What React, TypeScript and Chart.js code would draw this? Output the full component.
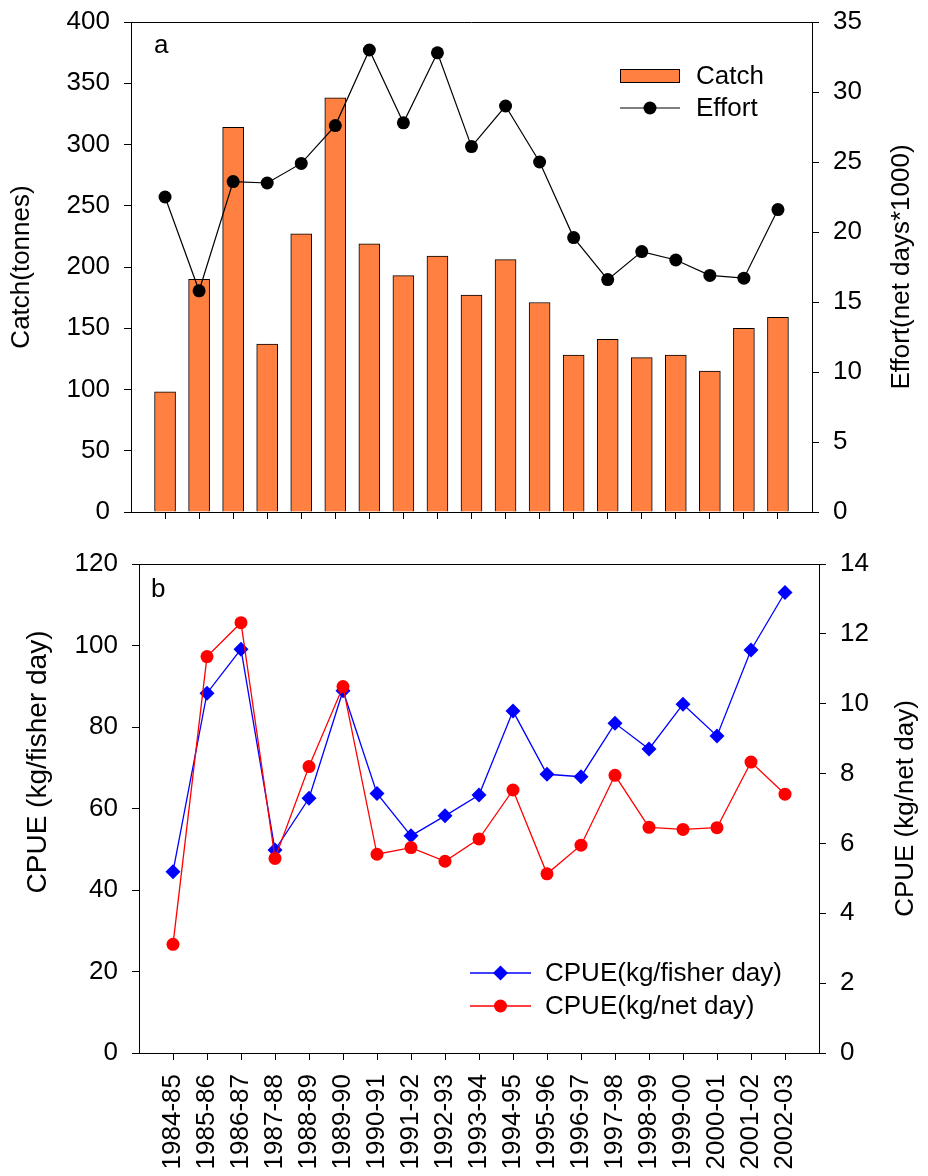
import React, { useEffect, useRef } from 'react';
import { Chart, registerables } from 'chart.js';

Chart.register(...registerables);

// ---------- data ----------
const seasons = [
  '1984-85', '1985-86', '1986-87', '1987-88', '1988-89', '1989-90', '1990-91',
  '1991-92', '1992-93', '1993-94', '1994-95', '1995-96', '1996-97', '1997-98',
  '1998-99', '1999-00', '2000-01', '2001-02', '2002-03',
];
const catchTonnes = [98, 190, 314, 137, 227, 338, 219, 193, 209, 177, 206, 171, 128, 141, 126, 128, 115, 150, 159];
const effortNetDays = [22.5, 15.8, 23.6, 23.5, 24.9, 27.6, 33.0, 27.8, 32.8, 26.1, 29.0, 25.0, 19.6, 16.6, 18.6, 18.0, 16.9, 16.7, 21.6];
const cpueFisherDay = [44.5, 88.3, 99.1, 49.8, 62.5, 88.9, 63.7, 53.3, 58.2, 63.3, 83.9, 68.4, 67.8, 80.9, 74.6, 85.6, 77.8, 98.9, 113.0];
const cpueNetDay = [3.11, 11.35, 12.32, 5.57, 8.2, 10.49, 5.69, 5.88, 5.49, 6.13, 7.53, 5.13, 5.95, 7.95, 6.46, 6.4, 6.45, 8.33, 7.41];

const catchTicks = { min: 0, max: 400, step: 50 };
const effortTicks = { min: 0, max: 35, step: 5 };
const fisherTicks = { min: 0, max: 120, step: 20 };
const netTicks = { min: 0, max: 14, step: 2 };

// ---------- style ----------
const FAMILY = 'Arial, "Liberation Sans", Helvetica, sans-serif';
const FS = 26;
const tickFont = { family: FAMILY, size: FS };
const idx = seasons.map((_, i) => i);

const gridOpts = {
  drawOnChartArea: false,
  drawTicks: true,
  tickLength: 7,
  color: '#000',
  lineWidth: 1,
  offset: false,
};
const borderOpts = { display: true, color: '#000', width: 1 };

function drawMarker(ctx: CanvasRenderingContext2D, style: string, x: number, y: number, r: number, color: string) {
  ctx.fillStyle = color;
  ctx.beginPath();
  if (style === 'rectRot') {
    ctx.moveTo(x, y - r);
    ctx.lineTo(x + r, y);
    ctx.lineTo(x, y + r);
    ctx.lineTo(x - r, y);
    ctx.closePath();
  } else {
    ctx.arc(x, y, r, 0, Math.PI * 2);
  }
  ctx.fill();
}

type OverlayCfg = {
  panel: { text: string; x: number; y: number };
  titles: { text: string; x: number; cy?: number; size?: number }[];
  legend: { x0: number; x1: number; textX: number; rows: { ds: number; y: number }[] };
};

function makeOverlay(id: string, cfg: OverlayCfg) {
  return {
    id,
    afterDraw(chart: any) {
      const ctx: CanvasRenderingContext2D = chart.ctx;
      const a = chart.chartArea;
      ctx.save();
      // top frame line
      ctx.strokeStyle = '#000';
      ctx.lineWidth = 1;
      ctx.beginPath();
      const ty = Math.round(a.top) + 0.5;
      ctx.moveTo(a.left, ty);
      ctx.lineTo(a.right, ty);
      ctx.stroke();

      ctx.font = `${FS}px ${FAMILY}`;
      ctx.fillStyle = '#000';
      // panel letter
      ctx.textAlign = 'left';
      ctx.textBaseline = 'alphabetic';
      ctx.fillText(cfg.panel.text, cfg.panel.x, cfg.panel.y);

      // axis titles
      const midY = (a.top + a.bottom) / 2;
      cfg.titles.forEach((t) => {
        ctx.save();
        ctx.translate(t.x, t.cy ?? midY);
        ctx.rotate(-Math.PI / 2);
        ctx.font = `${t.size ?? FS}px ${FAMILY}`;
        ctx.textAlign = 'center';
        ctx.textBaseline = 'middle';
        ctx.fillStyle = '#000';
        ctx.fillText(t.text, 0, 0);
        ctx.restore();
      });

      // legend
      const L = cfg.legend;
      ctx.font = `${FS}px ${FAMILY}`;
      L.rows.forEach((row) => {
        const ds = chart.data.datasets[row.ds];
        if (ds.type === 'bar') {
          ctx.fillStyle = ds.backgroundColor;
          ctx.fillRect(L.x0, row.y - 7, L.x1 - L.x0, 14);
          ctx.strokeStyle = ds.borderColor;
          ctx.lineWidth = 1;
          ctx.strokeRect(L.x0 + 0.5, row.y - 7 + 0.5, L.x1 - L.x0 - 1, 13);
        } else {
          ctx.strokeStyle = ds.borderColor;
          ctx.lineWidth = ds.borderWidth;
          ctx.beginPath();
          ctx.moveTo(L.x0, row.y);
          ctx.lineTo(L.x1, row.y);
          ctx.stroke();
          drawMarker(ctx, ds.pointStyle || 'circle', (L.x0 + L.x1) / 2, row.y, ds.pointRadius, ds.pointBackgroundColor);
        }
        ctx.fillStyle = '#000';
        ctx.textAlign = 'left';
        ctx.textBaseline = 'middle';
        ctx.fillText(ds.label, L.textX, row.y + 1);
      });
      ctx.restore();
    },
  };
}

function xScale(height: number, showLabels: boolean) {
  return {
    type: 'linear',
    min: -1,
    max: 19,
    offset: false,
    afterBuildTicks: (s: any) => {
      s.ticks = idx.map((v) => ({ value: v }));
    },
    afterFit: (s: any) => {
      s.height = height;
      s.paddingLeft = 0;
      s.paddingRight = 0;
    },
    ticks: {
      autoSkip: false,
      minRotation: 90,
      maxRotation: 90,
      padding: 14,
      color: '#000',
      font: tickFont,
      callback: (v: number) => (showLabels ? seasons[v] : ''),
    },
    grid: gridOpts,
    border: borderOpts,
  };
}

function yScale(pos: 'left' | 'right', t: { min: number; max: number; step: number }, width: number) {
  return {
    type: 'linear',
    position: pos,
    min: t.min,
    max: t.max,
    afterFit: (s: any) => {
      s.width = width;
      s.paddingTop = 0;
      s.paddingBottom = 0;
    },
    ticks: { stepSize: t.step, padding: 14, color: '#000', font: tickFont },
    grid: gridOpts,
    border: borderOpts,
  };
}

function buildTop(canvas: HTMLCanvasElement) {
  return new Chart(canvas, {
    type: 'bar',
    data: {
      datasets: [
        {
          type: 'line',
          label: 'Effort',
          data: idx.map((i) => ({ x: i, y: effortNetDays[i] })),
          yAxisID: 'y1',
          borderColor: '#000000',
          backgroundColor: '#000000',
          borderWidth: 1.2,
          pointStyle: 'circle',
          pointRadius: 6.5,
          pointBorderWidth: 0,
          pointBackgroundColor: '#000000',
          tension: 0,
          order: 1,
        } as any,
        {
          type: 'bar',
          label: 'Catch',
          data: idx.map((i) => ({ x: i, y: catchTonnes[i] })),
          yAxisID: 'y',
          backgroundColor: '#ff8040',
          borderColor: '#000000',
          borderWidth: 1,
          barThickness: 21,
          order: 2,
        } as any,
      ],
    },
    options: {
      animation: false,
      responsive: false,
      events: [],
      layout: { padding: { top: 22, left: 0, right: 0, bottom: 0 } },
      plugins: { legend: { display: false }, tooltip: { enabled: false } },
      scales: {
        x: xScale(28, false),
        y: yScale('left', catchTicks, 131),
        y1: yScale('right', effortTicks, 116),
      } as any,
    },
    plugins: [
      makeOverlay('overlayTop', {
        panel: { text: 'a', x: 154, y: 53 },
        titles: [
          { text: 'Catch(tonnes)', x: 22 },
          { text: 'Effort(net days*1000)', x: 902 },
        ],
        legend: { x0: 620, x1: 680, textX: 696, rows: [{ ds: 1, y: 76 }, { ds: 0, y: 108 }] },
      }),
    ],
  });
}

function buildBottom(canvas: HTMLCanvasElement) {
  return new Chart(canvas, {
    type: 'line',
    data: {
      datasets: [
        {
          label: 'CPUE(kg/fisher day)',
          data: idx.map((i) => ({ x: i, y: cpueFisherDay[i] })),
          yAxisID: 'y',
          borderColor: '#0000ff',
          backgroundColor: '#0000ff',
          borderWidth: 1.3,
          pointStyle: 'rectRot',
          pointRadius: 7.5,
          pointBorderWidth: 0,
          pointBackgroundColor: '#0000ff',
          tension: 0,
          order: 2,
        } as any,
        {
          label: 'CPUE(kg/net day)',
          data: idx.map((i) => ({ x: i, y: cpueNetDay[i] })),
          yAxisID: 'y1',
          borderColor: '#ff0000',
          backgroundColor: '#ff0000',
          borderWidth: 1.3,
          pointStyle: 'circle',
          pointRadius: 6.5,
          pointBorderWidth: 0,
          pointBackgroundColor: '#ff0000',
          tension: 0,
          order: 1,
        } as any,
      ],
    },
    options: {
      animation: false,
      responsive: false,
      events: [],
      layout: { padding: { top: 24, left: 0, right: 0, bottom: 0 } },
      plugins: { legend: { display: false }, tooltip: { enabled: false } },
      scales: {
        x: xScale(123, true),
        y: yScale('left', fisherTicks, 139),
        y1: yScale('right', netTicks, 109),
      } as any,
    },
    plugins: [
      makeOverlay('overlayBottom', {
        panel: { text: 'b', x: 151, y: 57 },
        titles: [
          { text: 'CPUE (kg/fisher day)', x: 38, cy: 222, size: 28 },
          { text: 'CPUE (kg/net day)', x: 906 },
        ],
        legend: { x0: 470, x1: 531, textX: 545, rows: [{ ds: 0, y: 433 }, { ds: 1, y: 466 }] },
      }),
    ],
  });
}

function ChartCanvas({ width, height, build }: { width: number; height: number; build: (c: HTMLCanvasElement) => Chart }) {
  const ref = useRef<HTMLCanvasElement | null>(null);
  useEffect(() => {
    if (!ref.current) return;
    const chart = build(ref.current);
    return () => chart.destroy();
  }, [build]);
  return <canvas ref={ref} width={width} height={height} style={{ display: 'block', width, height }} />;
}

export default function App() {
  return (
    <div style={{ position: 'absolute', left: 0, top: 0, width: 928, height: 1176, background: '#fff', overflow: 'hidden' }}>
      <ChartCanvas width={928} height={540} build={buildTop} />
      <ChartCanvas width={928} height={636} build={buildBottom} />
    </div>
  );
}
